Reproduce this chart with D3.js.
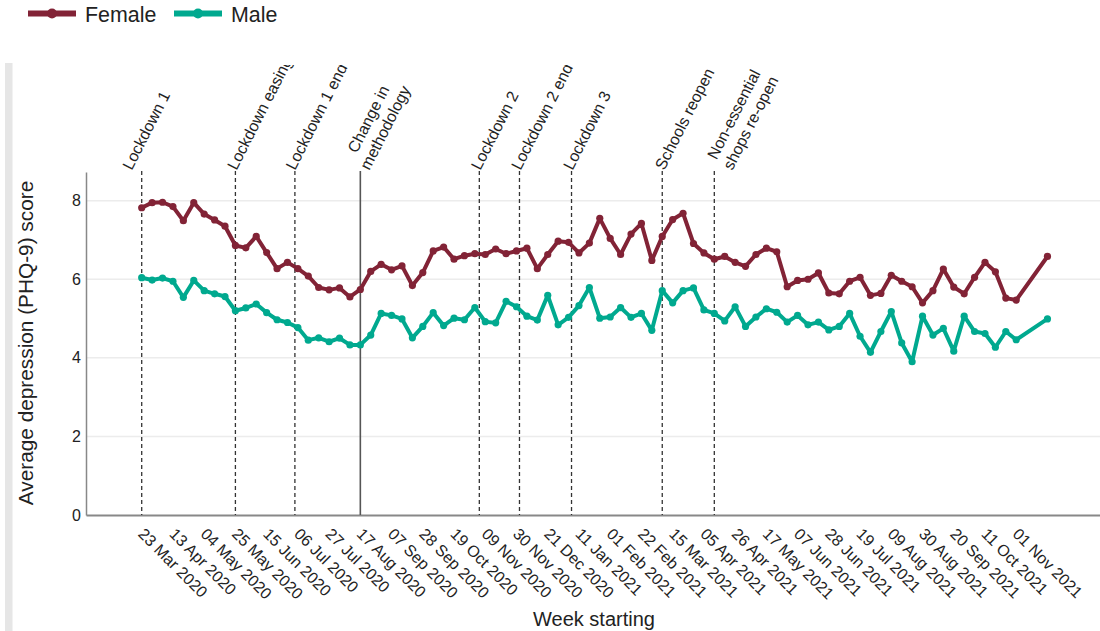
<!DOCTYPE html>
<html><head><meta charset="utf-8">
<script src="https://cdn.jsdelivr.net/npm/d3@7"></script>
<style>
body{margin:0;background:#fff;}
svg{display:block;font-family:"Liberation Sans",Arial,sans-serif;}
</style></head><body>
<svg id="chart" width="1100" height="631"></svg>
<script>
// ---- data ----
const weekStarts = [
"2020-03-23","2020-03-30","2020-04-06","2020-04-13","2020-04-20","2020-04-27","2020-05-04","2020-05-11","2020-05-18","2020-05-25",
"2020-06-01","2020-06-08","2020-06-15","2020-06-22","2020-06-29","2020-07-06","2020-07-13","2020-07-20","2020-07-27","2020-08-03",
"2020-08-10","2020-08-17","2020-08-24","2020-08-31","2020-09-07","2020-09-14","2020-09-21","2020-09-28","2020-10-05","2020-10-12",
"2020-10-19","2020-10-26","2020-11-02","2020-11-09","2020-11-16","2020-11-23","2020-11-30","2020-12-07","2020-12-14","2020-12-21",
"2020-12-28","2021-01-04","2021-01-11","2021-01-18","2021-01-25","2021-02-01","2021-02-08","2021-02-15","2021-02-22","2021-03-01",
"2021-03-08","2021-03-15","2021-03-22","2021-03-29","2021-04-05","2021-04-12","2021-04-19","2021-04-26","2021-05-03","2021-05-10",
"2021-05-17","2021-05-24","2021-05-31","2021-06-07","2021-06-14","2021-06-21","2021-06-28","2021-07-05","2021-07-12","2021-07-19",
"2021-07-26","2021-08-02","2021-08-09","2021-08-16","2021-08-23","2021-08-30","2021-09-06","2021-09-13","2021-09-20","2021-09-27",
"2021-10-04","2021-10-11","2021-10-18","2021-10-25","2021-11-01","2021-11-22"];
const female = [
7.82,7.95,7.96,7.85,7.49,7.95,7.66,7.51,7.35,6.86,
6.80,7.09,6.68,6.27,6.43,6.27,6.08,5.79,5.73,5.78,
5.55,5.74,6.20,6.38,6.24,6.34,5.84,6.17,6.72,6.82,
6.51,6.60,6.65,6.63,6.77,6.65,6.72,6.79,6.27,6.63,
6.97,6.94,6.67,6.92,7.55,7.04,6.63,7.15,7.42,6.48,
7.09,7.52,7.68,6.91,6.67,6.51,6.58,6.43,6.33,6.63,
6.79,6.70,5.81,5.97,6.00,6.16,5.65,5.63,5.95,6.05,
5.59,5.64,6.10,5.95,5.81,5.40,5.71,6.26,5.80,5.63,
6.05,6.43,6.19,5.52,5.47,6.58];
const male = [
6.04,5.98,6.03,5.95,5.54,5.97,5.71,5.63,5.56,5.20,
5.27,5.37,5.15,4.97,4.90,4.77,4.45,4.51,4.41,4.50,
4.33,4.33,4.58,5.13,5.08,4.99,4.51,4.80,5.15,4.82,
5.01,4.97,5.28,4.92,4.89,5.44,5.30,5.06,4.96,5.59,
4.84,5.03,5.33,5.79,5.01,5.04,5.28,5.03,5.13,4.70,
5.71,5.40,5.71,5.78,5.22,5.13,4.94,5.30,4.80,5.04,
5.25,5.16,4.91,5.08,4.84,4.91,4.71,4.80,5.13,4.55,
4.14,4.67,5.18,4.38,3.90,5.06,4.58,4.75,4.17,5.06,
4.67,4.62,4.27,4.67,4.46,4.99];
const seriesNames = ["Female","Male"];
const seriesColors = ["#822336","#00a98f"];
const tickDates = [
"2020-03-23","2020-04-13","2020-05-04","2020-05-25","2020-06-15","2020-07-06","2020-07-27","2020-08-17","2020-09-07","2020-09-28",
"2020-10-19","2020-11-09","2020-11-30","2020-12-21","2021-01-11","2021-02-01","2021-02-22","2021-03-15","2021-04-05","2021-04-26",
"2021-05-17","2021-06-07","2021-06-28","2021-07-19","2021-08-09","2021-08-30","2021-09-20","2021-10-11","2021-11-01"];
const yTicks = [0,2,4,6,8];
const annDates = ["2020-03-23","2020-05-25","2020-07-04","2020-08-17","2020-11-05","2020-12-02","2021-01-06","2021-03-08","2021-04-12"];
const annLabels = [["Lockdown 1"],["Lockdown easing"],["Lockdown 1 end"],["Change in","methodology"],["Lockdown 2"],["Lockdown 2 end"],["Lockdown 3"],["Schools reopen"],["Non-essential","shops re-open"]];
const annSolid = [false,false,false,true,false,false,false,false,false];
const annNudge = [-10,1,0,9,1,1,1,2,18];

// ---- chart ----
const svg = d3.select("#chart");
const parse = d3.utcParse("%Y-%m-%d");
const plotLeft = 86, plotRight = 1100, plotTop = 172, plotBottom = 515;
const x = d3.scaleUtc()
  .domain([new Date(Date.UTC(2020,1,14,13)), new Date(Date.UTC(2021,11,27,8))])
  .range([plotLeft, plotRight]);
const y = d3.scaleLinear().domain([0, 8.73]).range([plotBottom, plotTop]);

// left gray band
svg.append("rect").attr("x",5).attr("y",63).attr("width",7.5).attr("height",568).attr("fill","#e6e6e6");

// clip for annotations
svg.append("defs").append("clipPath").attr("id","clipTop")
  .append("rect").attr("x",0).attr("y",65).attr("width",1100).attr("height",566);

// gridlines
svg.append("g").selectAll("line").data(yTicks.filter(d=>d>0)).join("line")
  .attr("x1",plotLeft).attr("x2",plotRight).attr("y1",d=>y(d)).attr("y2",d=>y(d))
  .attr("stroke","#ececec").attr("stroke-width",1.5);

// y axis
const yAx = svg.append("g").attr("transform",`translate(${plotLeft},0)`)
  .call(d3.axisLeft(y).tickValues(yTicks).tickSize(0).tickSizeOuter(0).tickPadding(5).tickFormat(d3.format("d")));
yAx.select(".domain").attr("stroke","#888").attr("stroke-width",1.5);
yAx.selectAll("text").attr("font-size",16).attr("fill","#222").attr("font-family","Liberation Sans, Arial, sans-serif");

// x axis
const xAx = svg.append("g").attr("transform",`translate(0,${plotBottom})`)
  .call(d3.axisBottom(x).tickValues(tickDates.map(parse)).tickSize(0).tickSizeOuter(0).tickFormat(d3.utcFormat("%d %b %Y")));
xAx.select(".domain").attr("stroke","#888").attr("stroke-width",1.8);
xAx.selectAll("text").attr("font-size",16).attr("fill","#222").attr("font-family","Liberation Sans, Arial, sans-serif")
  .attr("x",0).attr("y",0).attr("dy",0).attr("text-anchor","start")
  .attr("transform","translate(-5,20) rotate(45)");

// annotation lines + labels
const ann = svg.append("g");
const lh = 19;
annDates.forEach((ds,i)=>{
  const xx = x(parse(ds));
  ann.append("line").attr("x1",xx).attr("x2",xx).attr("y1",171).attr("y2",plotBottom)
    .attr("stroke", annSolid[i] ? "#555" : "#333")
    .attr("stroke-width", annSolid[i] ? 1.6 : 1.3)
    .attr("stroke-dasharray", annSolid[i] ? null : "4,3");
  const lines = annLabels[i];
  const n = lines.length;
  const g = ann.append("g").attr("clip-path","url(#clipTop)");
  const t = g.append("text")
    .attr("transform",`translate(${xx+annNudge[i]},171) rotate(-63)`)
    .attr("font-size",16).attr("fill","#222");
  const spans = lines.map((ln,j)=> t.append("tspan").attr("x",0).attr("y",(j-(n-1))*lh).text(ln));
  const lens = spans.map(s=>s.node().getComputedTextLength());
  const maxLen = d3.max(lens);
  spans.forEach((s,j)=> s.attr("x",(maxLen-lens[j])/2));
});

// series
const series = [female, male];
const line = d3.line().x(d=>x(d.date)).y(d=>y(d.v));
series.forEach((vals,si)=>{
  const pts = vals.map((v,i)=>({date:parse(weekStarts[i]), v}));
  svg.append("path").datum(pts).attr("d",line).attr("fill","none")
    .attr("stroke",seriesColors[si]).attr("stroke-width",4)
    .attr("stroke-linejoin","round").attr("stroke-linecap","round");
  svg.append("g").selectAll("circle").data(pts).join("circle")
    .attr("cx",d=>x(d.date)).attr("cy",d=>y(d.v)).attr("r",3.6)
    .attr("fill",seriesColors[si]);
});

// axis titles
svg.append("text").attr("x",594).attr("y",626).attr("text-anchor","middle")
  .attr("font-size",20).attr("fill","#222").text("Week starting");
svg.append("text").attr("transform","translate(33,343) rotate(-90)").attr("text-anchor","middle")
  .attr("font-size",20.8).attr("fill","#222").text("Average depression (PHQ-9) score");

// legend
const legX = [28, 174];
seriesNames.forEach((nm,i)=>{
  const lg = svg.append("g");
  lg.append("line").attr("x1",legX[i]).attr("x2",legX[i]+48).attr("y1",13.5).attr("y2",13.5)
    .attr("stroke",seriesColors[i]).attr("stroke-width",6);
  lg.append("circle").attr("cx",legX[i]+24).attr("cy",13.5).attr("r",5).attr("fill",seriesColors[i]);
  lg.append("text").attr("x",legX[i]+57).attr("y",21.5).attr("font-size",21.4).attr("fill","#222").text(nm);
});
</script>
</body></html>
